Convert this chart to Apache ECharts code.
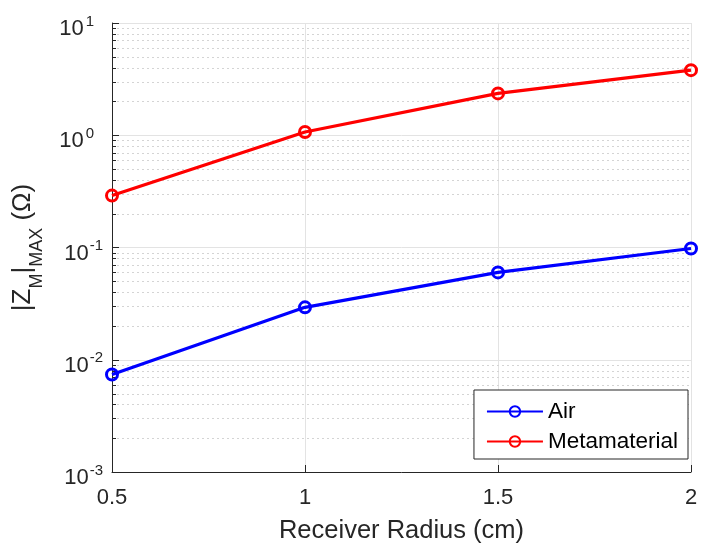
<!DOCTYPE html>
<html>
<head>
<meta charset="utf-8">
<script src="https://cdn.jsdelivr.net/npm/echarts@6/dist/echarts.min.js"></script>
<style>html,body{margin:0;padding:0;background:#fff}#c{width:701px;height:550px}</style>
</head>
<body>
<div id="c"></div>
<script>
var radius = [0.5, 1, 1.5, 2];
var airValues = [0.0074, 0.0293, 0.060, 0.098];
var metaValues = [0.29, 1.07, 2.36, 3.8];
var seriesNames = ['Air', 'Metamaterial'];
var xTicks = [0.5, 1, 1.5, 2];
var yDecades = [0.001, 0.01, 0.1, 1, 10];
var yMinorTicks = [];
[0.001, 0.01, 0.1, 1].forEach(function (d) {
  [2, 3, 4, 5, 6, 7, 8, 9].forEach(function (m) { yMinorTicks.push(+(m * d).toPrecision(3)); });
});

var FONT = '"Liberation Sans", Arial, Helvetica, sans-serif';
var TXT = '#262626';
var chart = echarts.init(document.getElementById('c'), null, {renderer: 'canvas'});

function pairs(xs, ys) { return xs.map(function (x, i) { return [x, ys[i]]; }); }

chart.setOption({
  animation: false,
  backgroundColor: '#fff',
  textStyle: {fontFamily: FONT},
  grid: {left: 112, right: 10, top: 23, bottom: 78, containLabel: false},
  legend: {
    data: seriesNames,
    orient: 'vertical',
    right: 13,
    top: 390,
    padding: [10, 10, 6, 12],
    itemGap: 7,
    itemWidth: 56,
    itemHeight: 13,
    backgroundColor: '#fff',
    borderColor: '#262626',
    borderWidth: 1,
    borderRadius: 0,
    textStyle: {fontFamily: FONT, fontSize: 22.5, lineHeight: 23, color: '#000'}
  },
  xAxis: {
    type: 'value',
    min: xTicks[0],
    max: xTicks[xTicks.length - 1],
    interval: 0.5,
    name: 'Receiver Radius (cm)',
    nameLocation: 'middle',
    nameGap: 46,
    nameTextStyle: {fontFamily: FONT, fontSize: 25.5, color: TXT},
    axisLine: {show: true, lineStyle: {color: '#262626', width: 1}},
    axisTick: {show: true, inside: true, length: 7, lineStyle: {color: '#262626'}},
    axisLabel: {fontFamily: FONT, fontSize: 22, color: TXT, margin: 15},
    splitLine: {show: true, lineStyle: {color: '#e3e3e3', width: 1}}
  },
  yAxis: {
    type: 'log',
    logBase: 10,
    min: yDecades[0],
    max: yDecades[yDecades.length - 1],
    name: '{n||Z}{s|M}{n||}{s|MAX}{n| (Ω)}',
    nameLocation: 'middle',
    nameRotate: 90,
    nameGap: 73,
    nameTextStyle: {
      fontFamily: FONT, color: TXT,
      rich: {
        n: {fontFamily: FONT, fontSize: 26, color: TXT, lineHeight: 32, verticalAlign: 'middle'},
        s: {fontFamily: FONT, fontSize: 18, color: TXT, lineHeight: 32, verticalAlign: 'bottom', padding: [0, 0, -7, 0]}
      }
    },
    axisLine: {show: true, lineStyle: {color: '#262626', width: 1}},
    axisTick: {show: true, inside: true, length: 7, lineStyle: {color: '#262626'}},
    axisLabel: {
      margin: 9,
      padding: [8, 0, 0, 0],
      formatter: function (v) {
        var e = Math.round(Math.log10(v));
        return '{b|10}' + (e < 0 ? '{sn|' : '{s|') + e + '}';
      },
      rich: {
        b: {fontFamily: FONT, fontSize: 22, color: TXT, lineHeight: 26, verticalAlign: 'bottom'},
        s: {fontFamily: FONT, fontSize: 15, color: TXT, lineHeight: 26, verticalAlign: 'top', padding: [0, 9, 0, 2]},
        sn: {fontFamily: FONT, fontSize: 15, color: TXT, lineHeight: 26, verticalAlign: 'top', padding: [0, 0, 0, 1]}
      }
    },
    splitLine: {show: true, lineStyle: {color: '#e3e3e3', width: 1}}
  },
  series: [
    {
      type: 'custom',
      name: 'minorGrid',
      silent: true,
      z: 1,
      clip: false,
      data: yMinorTicks.map(function (v) { return [xTicks[0], v]; }),
      renderItem: function (params, api) {
        var cs = params.coordSys;
        var y = Math.round(api.coord([api.value(0), api.value(1)])[1]) + 0.5;
        return {
          type: 'group',
          children: [
            {type: 'line', shape: {x1: cs.x, y1: y, x2: cs.x + cs.width, y2: y},
             style: {stroke: '#d4d4d4', lineWidth: 1, lineDash: [2, 3]}},
            {type: 'line', shape: {x1: cs.x, y1: y, x2: cs.x + 4, y2: y},
             style: {stroke: '#262626', lineWidth: 1}}
          ]
        };
      }
    },
    {
      name: seriesNames[0],
      type: 'line',
      z: 3,
      data: pairs(radius, airValues),
      color: '#0000ff',
      symbol: 'circle',
      symbolSize: 11,
      lineStyle: {width: 3.2, color: '#0000ff'},
      itemStyle: {color: 'rgba(0,0,0,0)', borderColor: '#0000ff', borderWidth: 3}
    },
    {
      name: seriesNames[1],
      type: 'line',
      z: 3,
      data: pairs(radius, metaValues),
      color: '#ff0000',
      symbol: 'circle',
      symbolSize: 11,
      lineStyle: {width: 3.2, color: '#ff0000'},
      itemStyle: {color: 'rgba(0,0,0,0)', borderColor: '#ff0000', borderWidth: 3}
    }
  ]
});
</script>
</body>
</html>
